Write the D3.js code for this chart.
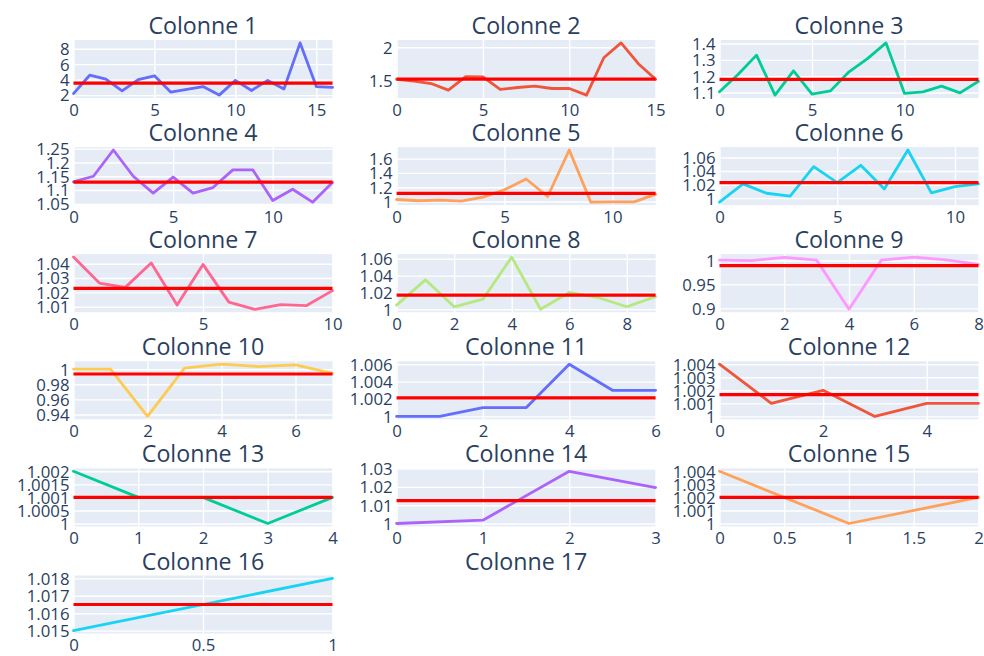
<!DOCTYPE html>
<html>
<head>
<meta charset="utf-8">
<script src="https://cdn.jsdelivr.net/npm/d3@7"></script>
<style>
  html, body { margin: 0; padding: 0; background: #ffffff; }
  svg { display: block; font-family: "Open Sans", verdana, arial, sans-serif; }
</style>
</head>
<body>
<svg id="chart" width="984" height="656"></svg>
<script>
// ---------- data ----------
const titles = ["Colonne 1","Colonne 2","Colonne 3","Colonne 4","Colonne 5","Colonne 6",
  "Colonne 7","Colonne 8","Colonne 9","Colonne 10","Colonne 11","Colonne 12",
  "Colonne 13","Colonne 14","Colonne 15","Colonne 16","Colonne 17"];

const col1  = [2.2, 4.57, 4.06, 2.55, 4.0, 4.5, 2.4, 2.75, 3.1, 2.0, 3.9, 2.6, 3.9, 2.8, 8.75, 3.1, 3.0];
const col2  = [1.515, 1.485, 1.45, 1.35, 1.555, 1.55, 1.36, 1.39, 1.41, 1.375, 1.375, 1.275, 1.84, 2.065, 1.75, 1.515];
const col3  = [1.104, 1.21, 1.329, 1.084, 1.233, 1.09, 1.11, 1.227, 1.308, 1.404, 1.094, 1.104, 1.139, 1.098, 1.169];
const col4  = [1.13, 1.15, 1.245, 1.15, 1.089, 1.147, 1.089, 1.109, 1.173, 1.173, 1.062, 1.103, 1.056, 1.127];
const col5  = [1.028, 1.01, 1.02, 1.005, 1.06, 1.164, 1.314, 1.07, 1.72, 0.99, 0.995, 0.995, 1.1];
const col6  = [0.994, 1.021, 1.0072, 1.0028, 1.0464, 1.0229, 1.0484, 1.0136, 1.071, 1.0077, 1.017, 1.021];
const col7  = [1.0446, 1.0265, 1.0235, 1.0405, 1.0112, 1.0395, 1.0132, 1.0082, 1.0114, 1.0108, 1.0212];
const col8  = [1.005, 1.035, 1.003, 1.012, 1.062, 1.0, 1.02, 1.014, 1.003, 1.015];
const col9  = [1.0007, 0.9995, 1.0065, 1.0007, 0.898, 1.0007, 1.007, 1.001, 0.992];
const col10 = [1.0, 1.0, 0.9374, 1.0013, 1.0066, 1.0035, 1.0057, 0.9943];
const col11 = [1.0, 1.0, 1.001, 1.001, 1.006, 1.003, 1.003];
const col12 = [1.004, 1.001, 1.002, 1.0, 1.001, 1.001];
const col13 = [1.002, 1.001, 1.001, 1.0, 1.001];
const col14 = [1.0, 1.0018, 1.0285, 1.0196];
const col15 = [1.004, 1.0, 1.002];
const col16 = [1.015, 1.018];
const seriesValues = [col1, col2, col3, col4, col5, col6, col7, col8, col9, col10,
  col11, col12, col13, col14, col15, col16];

// red horizontal reference (mean) per panel
const meanValues = [3.54, 1.516, 1.18, 1.129, 1.113, 1.0228, 1.0228, 1.0169, 0.9893, 0.9936,
  1.00214, 1.00167, 1.001, 1.0125, 1.002, 1.0165];

const xTickValues = [
  [0,5,10,15],[0,5,10,15],[0,5,10],
  [0,5,10],[0,5,10],[0,5,10],
  [0,5,10],[0,2,4,6,8],[0,2,4,6,8],
  [0,2,4,6],[0,2,4,6],[0,2,4],
  [0,1,2,3,4],[0,1,2,3],[0,0.5,1,1.5,2],
  [0,0.5,1]
];
const yTickValues = [
  [2,4,6,8],[1.5,2],[1.1,1.2,1.3,1.4],
  [1.05,1.1,1.15,1.2,1.25],[1,1.2,1.4,1.6],[1,1.02,1.04,1.06],
  [1.01,1.02,1.03,1.04],[1,1.02,1.04,1.06],[0.9,0.95,1],
  [0.94,0.96,0.98,1],[1,1.002,1.004,1.006],[1,1.001,1.002,1.003,1.004],
  [1,1.0005,1.001,1.0015,1.002],[1,1.01,1.02,1.03],[1,1.001,1.002,1.003,1.004],
  [1.015,1.016,1.017,1.018]
];

const colors = ["#636EFA","#EF553B","#00CC96","#AB63FA","#FFA15A","#19D3F3","#FF6692","#B6E880",
  "#FF97FF","#FECB52","#636EFA","#EF553B","#00CC96","#AB63FA","#FFA15A","#19D3F3"];

// ---------- layout ----------
const colLeft = [73.5, 396.6, 719.5];
const plotW = 259;
const rowTop0 = 40, rowPitch = 107.1, plotH = 58;
const textColor = "#2a3f5f";
const bg = "#E5ECF6";

const svg = d3.select("#chart");

titles.forEach((t, i) => {
  const r = Math.floor(i / 3), c = i % 3;
  const left = colLeft[c], top = rowTop0 + r * rowPitch;
  svg.append("text")
    .attr("x", left + plotW / 2)
    .attr("y", top - 6)
    .attr("text-anchor", "middle")
    .attr("fill", textColor)
    .style("font-size", "23.2px")
    .text(t);
});

seriesValues.forEach((vals, i) => {
  const r = Math.floor(i / 3), c = i % 3;
  const left = colLeft[c], top = rowTop0 + r * rowPitch;
  const g = svg.append("g");

  const x = d3.scaleLinear().domain([0, vals.length - 1]).range([left, left + plotW]);
  const ext = d3.extent(vals.concat([meanValues[i]]));
  const pad = (ext[1] - ext[0]) * 0.05 / 0.9;
  const y = d3.scaleLinear().domain([ext[0] - pad, ext[1] + pad]).range([top + plotH, top]);

  g.append("rect")
    .attr("x", left).attr("y", top)
    .attr("width", plotW).attr("height", plotH)
    .attr("fill", bg);

  // gridlines
  const xAxisGrid = d3.axisBottom(x).tickValues(xTickValues[i]).tickSize(-plotH).tickFormat("");
  const yAxisGrid = d3.axisLeft(y).tickValues(yTickValues[i]).tickSize(-plotW).tickFormat("");
  const gx = g.append("g").attr("transform", `translate(0,${top + plotH})`).call(xAxisGrid);
  const gy = g.append("g").attr("transform", `translate(${left},0)`).call(yAxisGrid);
  [gx, gy].forEach(a => {
    a.select(".domain").remove();
    a.selectAll("line").attr("stroke", "#ffffff").attr("stroke-width", 1.4);
  });

  // tick labels
  const xLab = d3.axisBottom(x).tickValues(xTickValues[i]).tickSize(0).tickPadding(0).tickFormat(d => String(d));
  const yLab = d3.axisLeft(y).tickValues(yTickValues[i]).tickSize(0).tickPadding(4).tickFormat(d => String(d));
  const lx = g.append("g").attr("transform", `translate(0,${top + plotH})`).call(xLab);
  const ly = g.append("g").attr("transform", `translate(${left},0)`).call(yLab);
  [lx, ly].forEach(a => {
    a.select(".domain").remove();
    a.selectAll("text").attr("fill", textColor)
      .style("font-size", "16.8px")
      .style("font-family", '"Open Sans", verdana, arial, sans-serif');
  });
  lx.selectAll("text").attr("dy", null).attr("y", 17.5);
  ly.selectAll("text").attr("dy", "0.35em");

  // data line
  const line = d3.line().x((d, k) => x(k)).y(d => y(d));
  g.append("path")
    .datum(vals)
    .attr("d", line)
    .attr("fill", "none")
    .attr("stroke", colors[i])
    .attr("stroke-width", 2.8)
    .attr("stroke-linejoin", "round")
    .attr("stroke-linecap", "round");

  // mean line
  g.append("line")
    .attr("x1", left).attr("x2", left + plotW)
    .attr("y1", y(meanValues[i])).attr("y2", y(meanValues[i]))
    .attr("stroke", "#ff0000")
    .attr("stroke-width", 3.2);
});
</script>
</body>
</html>
